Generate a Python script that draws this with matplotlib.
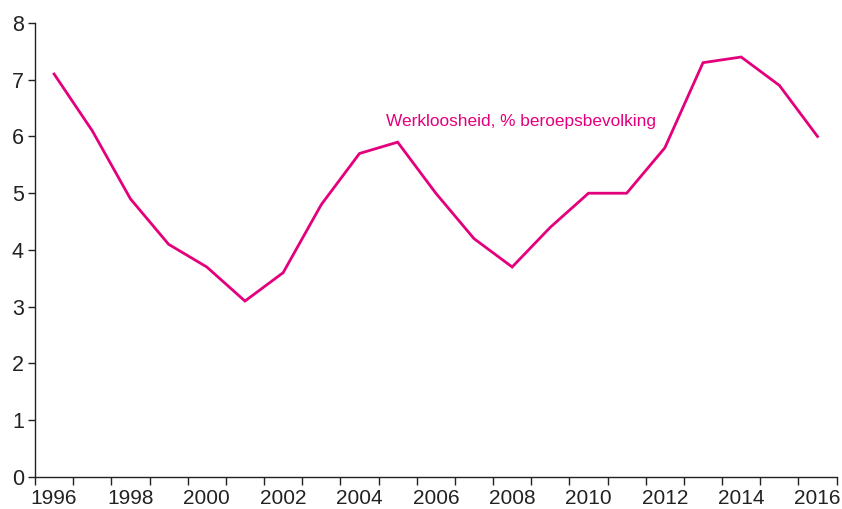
import numpy as np
import matplotlib.pyplot as plt

plt.rcParams['font.family'] = ['Liberation Sans', 'DejaVu Sans']

# werkloosheid per jaar
years = list(range(1996, 2017))
werkloosheid = [7.1, 6.1, 4.9, 4.1, 3.7, 3.1, 3.6, 4.8, 5.7, 5.9, 5.0,
                4.2, 3.7, 4.4, 5.0, 5.0, 5.8, 7.3, 7.4, 6.9, 6.0]
label_years = years[::2]
series_label = 'Werkloosheid, % beroepsbevolking'

pink = '#E4007C'
dark = '#222222'

fig = plt.figure(figsize=(8.42, 5.09), dpi=100)
ax = fig.add_axes([0.0416, 0.0629, 0.952, 0.892])

x = np.arange(len(years)) + 0.5
ax.plot(x, werkloosheid, color=pink, lw=2.0, solid_joinstyle='miter')

ax.set_xlim(0, len(years))
ax.set_ylim(0, 8)

# ticks op de grenzen, labels in het midden van de jaren
ax.set_xticks(np.arange(len(years) + 1))
ax.set_xticklabels([])
ax.set_xticks(np.arange(0, len(years), 2) + 0.5, minor=True)
ax.set_xticklabels([str(y) for y in label_years], minor=True)
ax.tick_params(axis='x', which='major', length=6, width=1, color=dark, direction='out')
ax.tick_params(axis='x', which='minor', length=0, pad=9, labelsize=15, labelcolor=dark)
ax.set_yticks(range(0, 9))
ax.tick_params(axis='y', length=5, width=1, color=dark, labelsize=15.5, labelcolor=dark, pad=3)

for s in ['top', 'right']:
    ax.spines[s].set_visible(False)
for s in ['left', 'bottom']:
    ax.spines[s].set_color(dark)
    ax.spines[s].set_linewidth(1)

ax.text(9.2, 6.26, series_label, color=pink, fontsize=12.4, ha='left', va='center')

fig.savefig('out.png', dpi=100)
